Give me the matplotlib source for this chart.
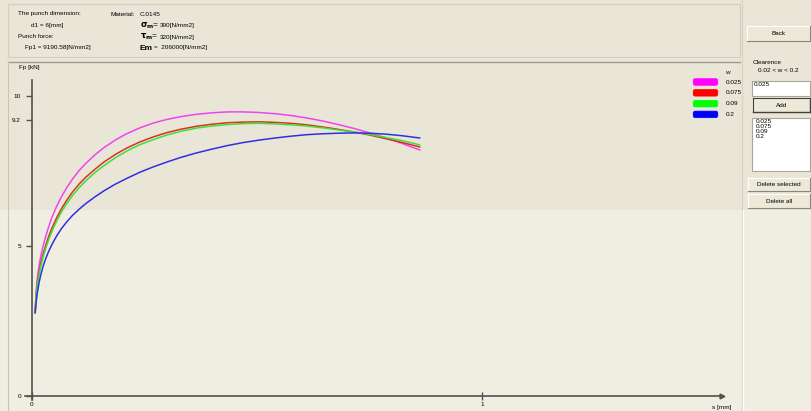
import matplotlib
matplotlib.use("Agg")
import matplotlib.pyplot as plt
from matplotlib.patches import Rectangle, FancyBboxPatch

plt.rcParams['font.family'] = ['Liberation Sans', 'DejaVu Sans']

# Daten
s = [0.007, 0.009, 0.012, 0.016, 0.02, 0.025, 0.03, 0.037, 0.045, 0.055,
     0.065, 0.077, 0.09, 0.105, 0.12, 0.14, 0.16, 0.185, 0.21, 0.24,
     0.27, 0.3, 0.33, 0.365, 0.4, 0.435, 0.47, 0.505, 0.54, 0.575,
     0.61, 0.645, 0.68, 0.715, 0.75, 0.785, 0.82, 0.862]
fp_0025 = [2.77, 3.45, 3.95, 4.38, 4.7, 5.02, 5.3, 5.64, 5.98, 6.33,
           6.63, 6.94, 7.23, 7.52, 7.76, 8.04, 8.28, 8.53, 8.74, 8.94,
           9.1, 9.22, 9.31, 9.39, 9.44, 9.47, 9.47, 9.45, 9.41, 9.35,
           9.27, 9.17, 9.05, 8.92, 8.77, 8.61, 8.43, 8.2]
fp_0075 = [2.77, 3.35, 3.8, 4.15, 4.45, 4.75, 5.0, 5.32, 5.62, 5.95,
           6.23, 6.52, 6.8, 7.07, 7.3, 7.56, 7.8, 8.05, 8.26, 8.47,
           8.64, 8.78, 8.89, 8.99, 9.06, 9.11, 9.13, 9.14, 9.12, 9.09,
           9.04, 8.97, 8.89, 8.8, 8.7, 8.58, 8.46, 8.3]
fp_009 = [2.77, 3.3, 3.73, 4.06, 4.35, 4.64, 4.9, 5.21, 5.51, 5.84,
          6.12, 6.41, 6.68, 6.95, 7.18, 7.45, 7.68, 7.94, 8.16, 8.38,
          8.55, 8.7, 8.82, 8.93, 9.0, 9.05, 9.08, 9.09, 9.07, 9.04,
          9.0, 8.94, 8.87, 8.8, 8.72, 8.62, 8.52, 8.37]
fp_02 = [2.77, 3.1, 3.45, 3.8, 4.07, 4.34, 4.56, 4.82, 5.07, 5.34,
         5.57, 5.8, 6.02, 6.23, 6.42, 6.64, 6.84, 7.06, 7.25, 7.46,
         7.64, 7.8, 7.95, 8.1, 8.23, 8.35, 8.45, 8.53, 8.6, 8.66,
         8.71, 8.74, 8.76, 8.77, 8.76, 8.73, 8.68, 8.6]

clearances = ["0.025", "0.075", "0.09", "0.2"]
series = [fp_0025, fp_0075, fp_009, fp_02]
line_colors = ["#f044f0", "#dc3020", "#3ce03c", "#3030e0"]
legend_colors = ["#ff00ff", "#ff0000", "#00ff00", "#0000ff"]

y_ticks = [0, 5, 9.2, 10]
y_ticklabels = ["0", "5", "9.2", "10"]
x_ticks = [0, 1]
x_ticklabels = ["0", "1"]

W, H = 812, 411
fig = plt.figure(figsize=(W / 100, H / 100), dpi=100)

# Hintergrund / GUI in Pixelkoordinaten
bg = fig.add_axes([0, 0, 1, 1])
bg.set_xlim(0, W)
bg.set_ylim(H, 0)
bg.axis("off")
bg.add_patch(Rectangle((0, 0), W, 210, facecolor="#e9e6d8", edgecolor="none"))
bg.add_patch(Rectangle((0, 210), W, H - 210, facecolor="#efeee1", edgecolor="none"))

# Rahmen oben und Diagrammrahmen
bg.add_patch(Rectangle((8, 4), 732, 53, facecolor="none", edgecolor="#d2cfbf", lw=0.8))
bg.plot([8, 740], [62, 62], color="#9a9a90", lw=1.0)
bg.plot([8, 8], [62, 411], color="#c8c5b5", lw=0.8)
bg.plot([742, 742], [0, 411], color="#d6d3c4", lw=0.8)
bg.plot([743.5, 743.5], [210, 411], color="#ffffff", lw=1.0)

fs = 4.6
bg.text(18, 14, "The punch dimension:", fontsize=fs, va="center")
bg.text(31, 25, "d1 = 6[mm]", fontsize=fs, va="center")
bg.text(18, 37, "Punch force:", fontsize=fs, va="center")
bg.text(25, 48, "Fp1 = 9190.58[N/mm2]", fontsize=fs, va="center")
bg.text(135, 14, "Material:", fontsize=fs, va="center", ha="right")
bg.text(140, 14, "C.0145", fontsize=fs, va="center")
bg.text(140, 26, r"$\mathbf{\sigma_m}$=", fontsize=6, va="center")
bg.text(160, 26, "390[N/mm2]", fontsize=fs, va="center")
bg.text(140, 37, r"$\mathbf{\tau_m}$=", fontsize=6, va="center")
bg.text(160, 37, "320[N/mm2]", fontsize=fs, va="center")
bg.text(140, 48, "Em", fontsize=6, va="center", fontweight="bold")
bg.text(154, 48, "=  206000[N/mm2]", fontsize=fs, va="center")

bg.text(19, 68, "Fp [kN]", fontsize=fs, va="center")
bg.text(712, 407, "s [mm]", fontsize=fs, va="center")

# Legende
bg.text(725, 72, "w", fontsize=fs, va="center")
for i, (lab, col) in enumerate(zip(clearances, legend_colors)):
    yc = 82 + i * 10.8
    bg.add_patch(FancyBboxPatch((694, yc - 2.5), 23, 5, boxstyle="round,pad=0.8,rounding_size=2",
                                facecolor=col, edgecolor=col, lw=0.5))
    bg.text(726, yc, lab, fontsize=fs, va="center")


def button(x0, y0, x1, y1, label, strong=False):
    bg.add_patch(Rectangle((x0, y0), x1 - x0, y1 - y0, facecolor="#ece9d8", edgecolor="none"))
    bg.plot([x0, x1], [y0, y0], color="#ffffff", lw=0.8)
    bg.plot([x0, x0], [y0, y1], color="#ffffff", lw=0.8)
    dark = "#404040" if strong else "#8a887c"
    bg.plot([x0, x1], [y1, y1], color=dark, lw=1.0 if strong else 0.8)
    bg.plot([x1, x1], [y0, y1], color=dark, lw=1.0 if strong else 0.8)
    if strong:
        bg.plot([x0, x0], [y0, y1], color=dark, lw=0.8)
        bg.plot([x0, x1], [y0, y0], color=dark, lw=0.8)
    bg.text((x0 + x1) / 2, (y0 + y1) / 2, label, fontsize=fs, ha="center", va="center")


button(747, 26, 810, 41, "Back")
bg.text(753, 62, "Clearence", fontsize=fs, va="center")
bg.text(778, 71, "0.02 < w < 0.2", fontsize=fs, va="center", ha="center")
bg.add_patch(Rectangle((752, 81), 58, 15, facecolor="#ffffff", edgecolor="#a8a698", lw=0.8))
bg.text(754, 85, "0.025", fontsize=fs, va="center")
button(753, 98, 810, 112, "Add", strong=True)
bg.add_patch(Rectangle((752, 118), 58, 53, facecolor="#ffffff", edgecolor="#a8a698", lw=0.8))
for i, lab in enumerate(clearances):
    bg.text(756, 121 + i * 5, lab, fontsize=fs, va="center")
button(748, 178, 810, 191, "Delete selected")
button(748, 194, 810, 208, "Delete all")

# Diagramm
left_px, right_px, top_px, bot_px = 25, 722, 70, 402
x0_px, x1_px = 32, 482
y0_px, y10_px = 396, 96
sx = (x1_px - x0_px)
sy = (y0_px - y10_px) / 10

ax = fig.add_axes([left_px / W, 1 - bot_px / H, (right_px - left_px) / W, (bot_px - top_px) / H])
ax.set_facecolor("none")
ax.set_xlim((left_px - x0_px) / sx, (right_px - x0_px) / sx)
ax.set_ylim((y0_px - bot_px) / sy, (y0_px - top_px) / sy)

for vals, col in zip(series, line_colors):
    ax.plot(s, vals, color=col, lw=1.1, solid_capstyle="round", solid_joinstyle="round")

for side in ["top", "right"]:
    ax.spines[side].set_visible(False)
ax.spines["left"].set_position(("data", 0))
ax.spines["bottom"].set_position(("data", 0))
ax.spines["left"].set_bounds((y0_px - 400) / sy, (y0_px - 80) / sy)
ax.spines["left"].set_color("#505050")
ax.spines["bottom"].set_color("#505050")
ax.spines["left"].set_linewidth(1.2)
ax.spines["bottom"].set_linewidth(1.2)
ax.plot([1], [0], marker=">", markersize=3.5, color="#505050",
        transform=ax.get_yaxis_transform(), clip_on=False)

ax.set_yticks(y_ticks)
ax.set_yticklabels(y_ticklabels)
ax.set_xticks(x_ticks)
ax.set_xticklabels(x_ticklabels)
ax.tick_params(axis="y", direction="out", length=4, width=1, color="#505050",
               labelsize=fs, pad=4)
ax.tick_params(axis="x", direction="inout", length=6, width=1, color="#505050",
               labelsize=fs, pad=1)

fig.savefig("out.png", dpi=100)
